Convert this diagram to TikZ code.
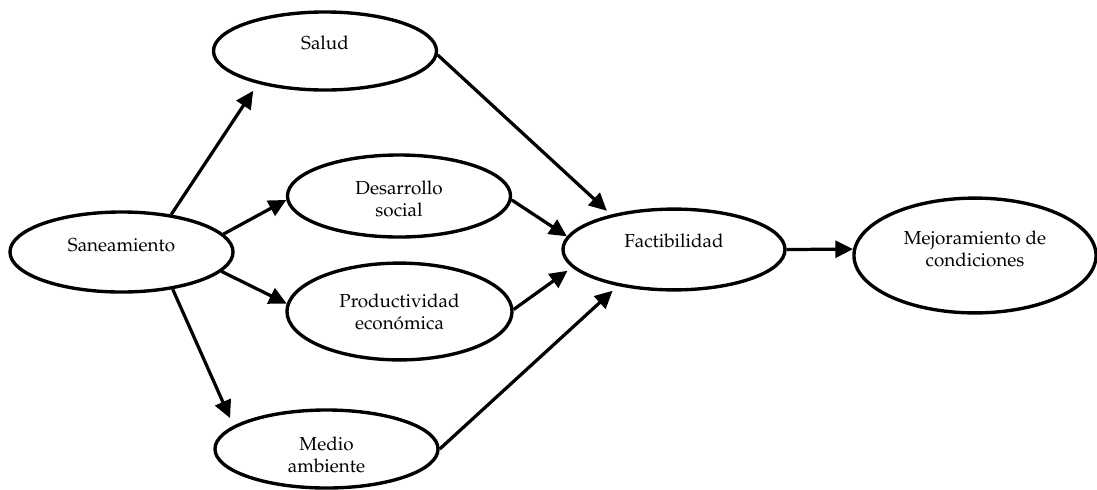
\documentclass[tikz,border=0pt]{standalone}
\usepackage[T1]{fontenc}
\usepackage{mathpazo}
\usetikzlibrary{shapes.geometric,arrows.meta}

\begin{document}
\begin{tikzpicture}[x=0.025cm,y=-0.025cm,font=\fontsize{13.4}{15.6}\selectfont,
 bub/.style={ellipse,draw,line width=2.4pt,inner sep=0pt},
 txt/.style={align=center},
 con/.style={line width=2.3pt,-{Triangle[length=0.44cm,width=0.42cm]}}]
\useasboundingbox(0,0)rectangle(1097,489);
\node[bub,minimum width=5.575cm,minimum height=2cm,label={[txt,yshift=5pt]center:Saneamiento}](san)at(121.5,252){};
\node[bub,minimum width=5.575cm,minimum height=1.95cm,label={[txt,yshift=5.7pt]center:Salud}](salud)at(325,51){};
\node[bub,minimum width=5.575cm,minimum height=2.05cm,label={[txt,yshift=-2pt]center:Desarrollo\\social}](des)at(399,196){};
\node[bub,minimum width=5.625cm,minimum height=2.42cm,label={[txt]center:Productividad\\econ\'omica}](prod)at(399.5,311.5){};
\node[bub,minimum width=5.575cm,minimum height=1.95cm,label={[txt,yshift=-4.3pt]center:Medio\\ambiente}](medio)at(326.5,449){};
\node[bub,minimum width=5.55cm,minimum height=2.02cm,label={[txt,yshift=6.4pt]center:Factibilidad}](fact)at(674,249.5){};
\node[bub,minimum width=6.05cm,minimum height=2.87cm,label={[txt,yshift=5pt]center:Mejoramiento de\\condiciones}](mej)at(975,255.5){};
\draw[con,shorten >=6pt](san.37)--(salud.206);
\draw[con](san.10)--(des.182);
\draw[con](san.-11)--(prod.176);
\draw[con,shorten >=6pt](san.-36)--(medio.166);
\draw[con,shorten >=4pt](salud.-2)--(fact.151);
\draw[con](des.-2)--(fact.173);
\draw[con,shorten >=4pt](prod.1)--(fact.190);
\draw[con,shorten >=5pt](medio.0)--(fact.213);
\draw[con](fact.0)--(mej.177);
\end{tikzpicture}
\end{document}
